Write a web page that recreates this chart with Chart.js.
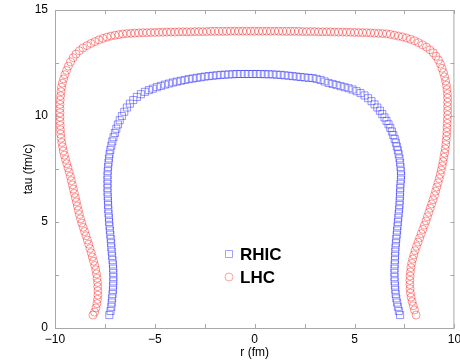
<!DOCTYPE html>
<html>
<head>
<meta charset="utf-8">
<script src="https://cdn.jsdelivr.net/npm/chart.js@4.4.1/dist/chart.umd.min.js"></script>
<style>
  html, body { margin: 0; padding: 0; background: #fff; }
  #wrap { width: 460px; height: 360px; }
</style>
</head>
<body>
<div id="wrap"><canvas id="chart" width="460" height="360"></canvas></div>
<script>
// freeze-out surfaces, [r (fm), tau (fm/c)]
const seriesNames = ["RHIC", "LHC"];

const rhicPoints = [
  [-7.28,0.61],[-7.22,0.80],[-7.18,1.00],[-7.16,1.20],[-7.14,1.40],[-7.12,1.60],[-7.10,1.80],[-7.09,2.00],
  [-7.08,2.20],[-7.08,2.40],[-7.08,2.60],[-7.09,2.80],[-7.10,3.00],[-7.12,3.20],[-7.14,3.40],[-7.16,3.60],
  [-7.18,3.80],[-7.19,4.00],[-7.21,4.20],[-7.23,4.40],[-7.25,4.60],[-7.27,4.80],[-7.29,5.00],[-7.30,5.20],
  [-7.32,5.40],[-7.33,5.60],[-7.34,5.80],[-7.35,6.00],[-7.36,6.20],[-7.37,6.40],[-7.37,6.60],[-7.37,6.80],
  [-7.37,7.00],[-7.37,7.20],[-7.36,7.40],[-7.34,7.60],[-7.32,7.80],[-7.30,8.00],[-7.27,8.20],[-7.23,8.40],
  [-7.18,8.60],[-7.13,8.80],[-7.07,9.00],[-7.00,9.20],[-6.93,9.40],[-6.85,9.60],[-6.76,9.80],[-6.65,10.00],
  [-6.53,10.20],[-6.40,10.40],[-6.25,10.58],[-6.08,10.75],[-5.90,10.90],[-5.70,11.03],[-5.50,11.14],[-5.30,11.22],
  [-5.10,11.29],[-4.90,11.36],[-4.70,11.42],[-4.50,11.48],[-4.30,11.53],[-4.10,11.58],[-3.90,11.62],[-3.70,11.66],
  [-3.50,11.70],[-3.30,11.74],[-3.10,11.77],[-2.90,11.80],[-2.70,11.83],[-2.50,11.86],[-2.30,11.88],[-2.10,11.90],
  [-1.90,11.92],[-1.70,11.94],[-1.50,11.95],[-1.30,11.96],[-1.10,11.97],[-0.90,11.98],[-0.70,11.98],[-0.50,11.98],
  [-0.30,11.98],[-0.10,11.98],[0.10,11.98],[0.30,11.98],[0.50,11.97],[0.70,11.97],[0.90,11.96],[1.10,11.95],
  [1.30,11.94],[1.50,11.92],[1.70,11.90],[1.90,11.88],[2.10,11.86],[2.30,11.84],[2.50,11.82],[2.70,11.80],
  [2.90,11.79],[3.10,11.75],[3.30,11.70],[3.50,11.63],[3.70,11.56],[3.90,11.51],[4.10,11.46],[4.30,11.41],
  [4.50,11.36],[4.70,11.31],[4.90,11.25],[5.10,11.17],[5.30,11.08],[5.50,10.97],[5.68,10.84],[5.85,10.70],
  [6.00,10.55],[6.14,10.40],[6.27,10.25],[6.39,10.09],[6.50,9.93],[6.60,9.77],[6.70,9.61],[6.79,9.44],
  [6.87,9.27],[6.94,9.10],[7.01,8.92],[7.07,8.74],[7.12,8.56],[7.17,8.38],[7.21,8.20],[7.25,8.00],
  [7.28,7.80],[7.30,7.60],[7.32,7.40],[7.33,7.20],[7.32,7.00],[7.30,6.80],[7.29,6.60],[7.28,6.40],
  [7.27,6.20],[7.26,6.00],[7.25,5.80],[7.23,5.60],[7.21,5.40],[7.19,5.20],[7.17,5.00],[7.15,4.80],
  [7.13,4.60],[7.11,4.40],[7.09,4.20],[7.07,4.00],[7.05,3.80],[7.04,3.60],[7.03,3.40],[7.02,3.20],
  [7.01,3.00],[7.00,2.80],[7.00,2.60],[7.00,2.40],[7.01,2.20],[7.02,2.00],[7.04,1.80],[7.06,1.60],
  [7.09,1.40],[7.13,1.20],[7.17,1.00],[7.22,0.80],[7.28,0.61]
];

const lhcPoints = [
  [-8.10,0.61],[-8.02,0.75],[-7.95,0.95],[-7.90,1.15],[-7.87,1.35],[-7.85,1.55],[-7.85,1.75],[-7.86,1.95],
  [-7.87,2.15],[-7.89,2.35],[-7.92,2.55],[-7.96,2.75],[-8.01,2.95],[-8.07,3.15],[-8.13,3.35],[-8.19,3.55],
  [-8.25,3.75],[-8.31,3.95],[-8.38,4.15],[-8.45,4.35],[-8.52,4.55],[-8.59,4.75],[-8.66,4.95],[-8.72,5.15],
  [-8.78,5.35],[-8.83,5.55],[-8.88,5.75],[-8.93,5.95],[-8.98,6.15],[-9.03,6.35],[-9.08,6.55],[-9.13,6.75],
  [-9.18,6.95],[-9.23,7.15],[-9.29,7.35],[-9.35,7.55],[-9.41,7.75],[-9.47,7.95],[-9.53,8.15],[-9.58,8.35],
  [-9.62,8.55],[-9.66,8.75],[-9.69,8.95],[-9.71,9.15],[-9.73,9.35],[-9.74,9.55],[-9.75,9.75],[-9.75,9.95],
  [-9.75,10.15],[-9.75,10.35],[-9.75,10.55],[-9.74,10.75],[-9.72,10.95],[-9.70,11.15],[-9.67,11.35],[-9.63,11.55],
  [-9.57,11.75],[-9.50,11.95],[-9.42,12.15],[-9.33,12.35],[-9.22,12.55],[-9.09,12.75],[-8.95,12.92],[-8.78,13.08],
  [-8.60,13.21],[-8.40,13.32],[-8.20,13.42],[-8.00,13.51],[-7.80,13.59],[-7.60,13.66],[-7.40,13.72],[-7.20,13.77],
  [-7.00,13.81],[-6.80,13.84],[-6.60,13.87],
  [-6.4,13.89],[-6.2,13.90],[-6.0,13.91],[-5.8,13.92],[-5.6,13.93],[-5.4,13.93],[-5.2,13.94],[-5.0,13.94],
  [-4.8,13.95],[-4.6,13.95],[-4.4,13.96],[-4.2,13.96],[-4.0,13.96],[-3.8,13.97],[-3.6,13.97],[-3.4,13.97],
  [-3.2,13.97],[-3.0,13.98],[-2.8,13.98],[-2.6,13.98],[-2.4,13.98],[-2.2,13.99],[-2.0,13.99],[-1.8,13.99],
  [-1.6,13.99],[-1.4,13.99],[-1.2,14.00],[-1.0,14.00],[-0.8,14.00],[-0.6,14.00],[-0.4,14.00],[-0.2,14.00],
  [0.0,14.00],[0.2,14.00],[0.4,14.00],[0.6,14.00],[0.8,14.00],[1.0,14.00],[1.2,14.00],[1.4,13.99],
  [1.6,13.99],[1.8,13.99],[2.0,13.99],[2.2,13.99],[2.4,13.98],[2.6,13.98],[2.8,13.98],[3.0,13.98],
  [3.2,13.97],[3.4,13.97],[3.6,13.97],[3.8,13.97],[4.0,13.96],[4.2,13.96],[4.4,13.96],[4.6,13.95],
  [4.8,13.95],[5.0,13.94],[5.2,13.94],[5.4,13.93],[5.6,13.93],[5.8,13.92],[6.0,13.91],[6.2,13.90],
  [6.4,13.89],
  [6.60,13.88],[6.80,13.85],[7.00,13.81],[7.20,13.77],[7.40,13.73],[7.60,13.68],[7.80,13.62],[8.00,13.55],
  [8.20,13.46],[8.40,13.36],[8.60,13.25],[8.78,13.12],[8.94,12.98],[9.08,12.82],[9.20,12.64],[9.30,12.45],
  [9.38,12.25],[9.45,12.05],[9.51,11.85],[9.56,11.65],[9.60,11.45],[9.63,11.25],[9.65,11.05],[9.66,10.85],
  [9.66,10.65],[9.66,10.45],[9.66,10.25],[9.66,10.05],[9.65,9.85],[9.64,9.65],[9.63,9.45],[9.62,9.25],
  [9.61,9.05],[9.59,8.85],[9.57,8.65],[9.54,8.45],[9.51,8.25],[9.47,8.05],[9.43,7.85],[9.39,7.65],
  [9.34,7.45],[9.29,7.25],[9.24,7.05],[9.18,6.85],[9.12,6.65],[9.06,6.45],[9.00,6.25],[8.93,6.05],
  [8.86,5.85],[8.79,5.65],[8.72,5.45],[8.65,5.25],[8.58,5.05],[8.50,4.85],[8.42,4.65],[8.34,4.45],
  [8.26,4.25],[8.18,4.05],[8.10,3.85],[8.03,3.65],[7.97,3.45],[7.91,3.25],[7.86,3.05],[7.82,2.85],
  [7.80,2.65],[7.78,2.45],[7.77,2.25],[7.77,2.05],[7.78,1.85],[7.80,1.65],[7.83,1.45],[7.88,1.25],
  [7.94,1.05],[8.00,0.85],[8.08,0.61]
];

const FONT = "'Liberation Sans', Arial, Helvetica, sans-serif";
const frameColor = "#a8a8a8";

function toXY(list) {
  return list.map(p => ({ x: p[0], y: p[1] }));
}

// labels only on every other tick (5, 10, ...), minus sign like the plot
function tickLabel(v) {
  if (Math.abs(v % 5) > 1e-9) return "";
  return v < 0 ? "\u2212" + Math.abs(v) : String(v);
}

// box around the plot area with short inward ticks on all four sides
const frameTicks = {
  id: "frameTicks",
  afterDatasetsDraw(chart) {
    const { ctx, chartArea: a, scales } = chart;
    const len = 4;
    ctx.save();
    ctx.strokeStyle = frameColor;
    ctx.lineWidth = 1;
    ctx.strokeRect(a.left + 0.5, a.top + 0.5, a.right - a.left - 1, a.bottom - a.top);
    ctx.beginPath();
    scales.x.ticks.forEach(t => {
      const px = Math.round(scales.x.getPixelForValue(t.value)) + 0.5;
      ctx.moveTo(px, a.bottom); ctx.lineTo(px, a.bottom - len);
      ctx.moveTo(px, a.top); ctx.lineTo(px, a.top + len);
    });
    scales.y.ticks.forEach(t => {
      const py = Math.round(scales.y.getPixelForValue(t.value)) + 0.5;
      ctx.moveTo(a.left, py); ctx.lineTo(a.left + len, py);
      ctx.moveTo(a.right, py); ctx.lineTo(a.right - len, py);
    });
    ctx.stroke();
    ctx.restore();
  }
};

// small key placed inside the plot, under the arch
const insideKey = {
  id: "insideKey",
  afterDraw(chart) {
    const { ctx, chartArea: a } = chart;
    const x0 = a.left + 174;
    const y0 = a.top + 244;
    const gap = 23;
    ctx.save();
    chart.data.datasets.forEach((ds, i) => {
      const y = y0 + i * gap;
      ctx.strokeStyle = ds.keyColor;
      ctx.lineWidth = 0.8;
      ctx.beginPath();
      if (ds.pointStyle === "rect") {
        ctx.rect(x0 - 3.5, y - 3.5, 7, 7);
      } else {
        ctx.arc(x0, y, 4, 0, Math.PI * 2);
      }
      ctx.stroke();
      ctx.fillStyle = "#000";
      ctx.font = "bold 17px " + FONT;
      ctx.textAlign = "left";
      ctx.textBaseline = "middle";
      ctx.fillText(ds.label, x0 + 11, y + 1);
    });
    ctx.restore();
  }
};

new Chart(document.getElementById("chart"), {
  type: "scatter",
  data: {
    datasets: [
      {
        label: seriesNames[0],
        data: toXY(rhicPoints),
        pointStyle: "rect",
        pointRadius: 5,
        borderColor: "rgba(0,0,255,0.7)",
        backgroundColor: "rgba(0,0,0,0)",
        borderWidth: 0.6,
        keyColor: "rgba(0,0,255,0.45)"
      },
      {
        label: seriesNames[1],
        data: toXY(lhcPoints),
        pointStyle: "circle",
        pointRadius: 4,
        borderColor: "rgba(255,0,0,0.7)",
        backgroundColor: "rgba(0,0,0,0)",
        borderWidth: 0.6,
        keyColor: "rgba(255,0,0,0.45)"
      }
    ]
  },
  options: {
    responsive: false,
    animation: false,
    devicePixelRatio: 1,
    layout: { padding: { top: 10, right: 5, left: 0, bottom: 0 } },
    plugins: {
      legend: { display: false },
      tooltip: { enabled: false }
    },
    scales: {
      x: {
        type: "linear",
        min: -10,
        max: 10,
        grid: { display: false, drawTicks: false },
        border: { display: false },
        ticks: {
          stepSize: 2.5,
          autoSkip: false,
          maxRotation: 0,
          padding: 4,
          color: "#000",
          font: { family: FONT, size: 12 },
          callback: tickLabel
        },
        title: {
          display: true,
          text: "r (fm)",
          color: "#000",
          font: { family: FONT, size: 12 },
          padding: { top: 0, bottom: 0 }
        },
        afterFit(scale) {
          scale.height = 32;
          scale.paddingLeft = 0;
          scale.paddingRight = 0;
        }
      },
      y: {
        type: "linear",
        min: 0,
        max: 15,
        grid: { display: false, drawTicks: false },
        border: { display: false },
        ticks: {
          stepSize: 2.5,
          autoSkip: false,
          padding: 7,
          color: "#000",
          font: { family: FONT, size: 12 },
          callback: tickLabel
        },
        title: {
          display: true,
          text: "tau (fm/c)",
          color: "#000",
          font: { family: FONT, size: 12 },
          padding: { top: 21, bottom: 0 }
        },
        afterFit(scale) {
          scale.width = 55;
          scale.paddingTop = 0;
          scale.paddingBottom = 0;
        }
      }
    }
  },
  plugins: [frameTicks, insideKey]
});
</script>
</body>
</html>
